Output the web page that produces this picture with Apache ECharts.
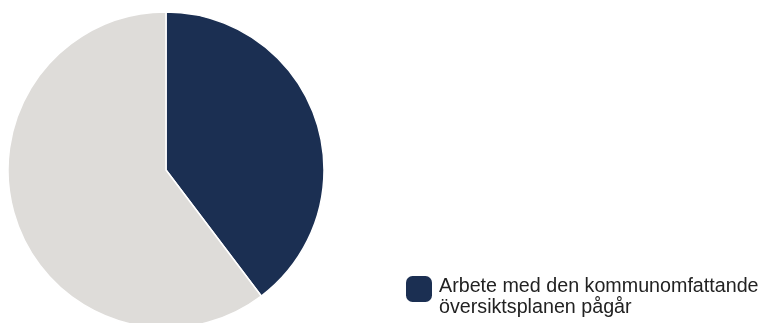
<!DOCTYPE html>
<html>
<head>
<meta charset="utf-8">
<script src="https://cdn.jsdelivr.net/npm/echarts@6/dist/echarts.min.js"></script>
<style>
  html, body { margin: 0; padding: 0; background: #fff; }
  #chart { width: 761px; height: 323px; }
</style>
</head>
<body>
<div id="chart"></div>
<script>
// slice names and shares (percent)
var names = ['Arbete med den kommunomfattande översiktsplanen pågår', 'Övrigt'];
var values = [39.7, 60.3];
var colors = ['#1b2f52', '#dedcd9'];
var legendNames = [names[0]];
var legendLines = ['Arbete med den kommunomfattande', 'översiktsplanen pågår'];

var chart = echarts.init(document.getElementById('chart'));
var option = {
    animation: false,
    legend: {
        data: legendNames,
        left: 406,
        top: 260,
        padding: 0,
        icon: 'roundRect',
        itemWidth: 26,
        itemHeight: 26,
        itemStyle: { borderWidth: 0 },
        textStyle: {
            fontFamily: 'Liberation Sans, Arial, sans-serif',
            fontSize: 19.7,
            color: '#222',
            lineHeight: 21,
            padding: [0, 0, 0, 2],
            rich: {
                s: { fontSize: 10, lineHeight: 16 },
                t: { fontSize: 19.7, lineHeight: 21, color: '#222' }
            }
        },
        formatter: function (name) {
            return '{s| }\n{t|' + legendLines[0] + '}\n{t|' + legendLines[1] + '}';
        }
    },
    series: [{
        type: 'pie',
        center: [166, 170],
        radius: 158,
        startAngle: 90,
        clockwise: true,
        label: { show: false },
        labelLine: { show: false },
        itemStyle: { borderColor: '#fff', borderWidth: 1.5 },
        emphasis: { disabled: true },
        data: names.map(function (n, i) {
            return { name: n, value: values[i], itemStyle: { color: colors[i] } };
        })
    }]
};
chart.setOption(option);
</script>
</body>
</html>
